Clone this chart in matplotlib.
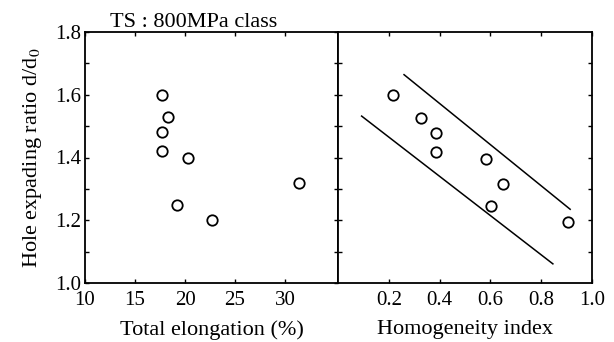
import matplotlib
matplotlib.use('Agg')
import matplotlib.pyplot as plt

plt.rcParams['font.family'] = ['Liberation Serif', 'DejaVu Serif']
plt.rcParams['mathtext.fontset'] = 'stix'

# Left panel: total elongation vs hole expanding ratio
elong = [17.7, 18.3, 17.7, 17.7, 20.3, 19.2, 22.7, 31.4]
ratio_l = [1.60, 1.53, 1.48, 1.42, 1.40, 1.25, 1.20, 1.32]

# Right panel: homogeneity index vs hole expanding ratio
homog = [0.217, 0.326, 0.386, 0.386, 0.582, 0.650, 0.601, 0.907]
ratio_r = [1.60, 1.527, 1.477, 1.417, 1.396, 1.316, 1.244, 1.193]

# scatter band lines
upper_x = [0.26, 0.914]
upper_y = [1.664, 1.235]
lower_x = [0.093, 0.846]
lower_y = [1.532, 1.061]

fig = plt.figure(figsize=(6.14, 3.42), dpi=100)
ax1 = fig.add_axes([85 / 614, 1 - 283 / 342, 253 / 614, 251 / 342])
ax2 = fig.add_axes([338 / 614, 1 - 283 / 342, 254 / 614, 251 / 342])

mk = dict(marker='o', linestyle='none', markersize=7.5, markerfacecolor='white',
          markeredgecolor='black', markeredgewidth=1.3)

ax1.plot(elong, ratio_l, **mk)
ax1.set_xlim(10, 35.3)
ax1.set_ylim(1.0, 1.8)
ax1.set_xticks([10, 15, 20, 25, 30])
ax1.set_yticks([1.0, 1.1, 1.2, 1.3, 1.4, 1.5, 1.6, 1.7, 1.8])
ax1.set_yticklabels(['1.0', '', '1.2', '', '1.4', '', '1.6', '', '1.8'])
ax1.set_xlabel('Total elongation (%)', fontsize=16, labelpad=7)
ax1.set_ylabel('Hole expading ratio d/d$_0$', fontsize=16, labelpad=8)
ax1.text(0.43, 1.0, 'TS : 800MPa class', transform=ax1.transAxes, ha='center',
         va='bottom', fontsize=16)

ax2.plot(homog, ratio_r, **mk)
ax2.plot(upper_x, upper_y, color='black', lw=1.1)
ax2.plot(lower_x, lower_y, color='black', lw=1.1)
ax2.set_xlim(0, 1.0)
ax2.set_ylim(1.0, 1.8)
ax2.set_xticks([0.2, 0.4, 0.6, 0.8, 1.0])
ax2.set_xticklabels(['0.2', '0.4', '0.6', '0.8', '1.0'])
ax2.set_yticks([1.1, 1.2, 1.3, 1.4, 1.5, 1.6, 1.7])
ax2.set_yticklabels([])
ax2.set_xlabel('Homogeneity index', fontsize=16, labelpad=7)

for ax in (ax1, ax2):
    ax.tick_params(direction='in', length=3, width=1, top=True, right=True,
                   labelsize=15, pad=3)
    ax.tick_params(axis='x', pad=6)
    for s in ax.spines.values():
        s.set_linewidth(1.3)

fig.savefig('out.png', dpi=100)
